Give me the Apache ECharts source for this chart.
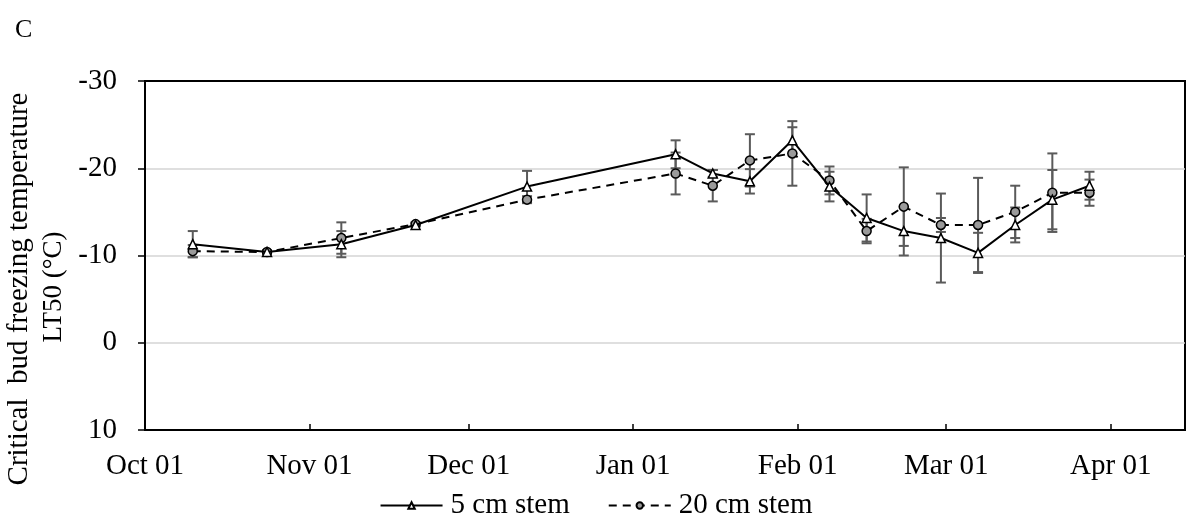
<!DOCTYPE html>
<html>
<head>
<meta charset="utf-8">
<script src="https://cdn.jsdelivr.net/npm/echarts@6/dist/echarts.min.js"></script>
<style>
  html, body { margin: 0; padding: 0; background: #fff; }
  #echart { width: 1192px; height: 529px; }
</style>
</head>
<body>
<div id="echart"></div>
<script>
// sampling dates
var dates = ['2018-10-10', '2018-10-24', '2018-11-07', '2018-11-21', '2018-12-12',
	'2019-01-09', '2019-01-16', '2019-01-23', '2019-01-31', '2019-02-07', '2019-02-14',
	'2019-02-21', '2019-02-28', '2019-03-07', '2019-03-14', '2019-03-21', '2019-03-28'];
// LT50 (°C)
var stem5 = [-11.3, -10.4, -11.3, -13.5, -17.9, -21.6, -19.4, -18.5, -23.2, -17.9, -14.3, -12.8, -12.0, -10.3, -13.5, -16.4, -18.0];
var stem20 = [-10.5, -10.4, -12.0, -13.6, -16.4, -19.4, -18.0, -20.9, -21.7, -18.6, -12.8, -15.6, -13.5, -13.5, -15.0, -17.2, -17.2];
// error bar half widths
var err5 = [1.5, 0.2, 1.5, 0.2, 1.8, 1.6, 0.4, 1.4, 1.5, 1.7, 2.7, 2.8, 5.1, 2.3, 2.0, 3.4, 1.6];
var err20 = [0.7, 0.2, 1.8, 0.2, 0.4, 2.4, 1.8, 3.0, 3.7, 1.6, 1.4, 4.5, 0.8, 5.4, 3.0, 4.5, 1.5];
var yTicks = [-30, -20, -10, 0, 10];
var monthNames = ['Jan', 'Feb', 'Mar', 'Apr', 'May', 'Jun', 'Jul', 'Aug', 'Sep', 'Oct', 'Nov', 'Dec'];
var yTitle = ['Critical  bud freezing temperature', 'LT50 (°C)'];

var font = 'Liberation Serif';
var day = 86400000;

function pairs(vals) {
	return dates.map(function(d, i) { return [d, vals[i]]; });
}
function errPairs(vals, errs) {
	return dates.map(function(d, i) { return [d, vals[i], errs[i]]; });
}
function renderErr(params, api) {
	var x = api.value(0), v = api.value(1), e = api.value(2);
	var top = api.coord([x, v - e]);
	var bot = api.coord([x, v + e]);
	var w = 5;
	var st = { stroke: '#5a5a5a', lineWidth: 2 };
	return {
		type: 'group',
		children: [
			{ type: 'line', shape: { x1: top[0], y1: top[1], x2: bot[0], y2: bot[1] }, style: st },
			{ type: 'line', shape: { x1: top[0] - w, y1: top[1], x2: top[0] + w, y2: top[1] }, style: st },
			{ type: 'line', shape: { x1: bot[0] - w, y1: bot[1], x2: bot[0] + w, y2: bot[1] }, style: st }
		]
	};
}

var myChart = echarts.init(document.getElementById('echart'));
myChart.setOption({
	animation: false,
	textStyle: { fontFamily: font, color: '#000' },
	title: {
		text: 'C',
		left: 10, top: 12,
		textStyle: { fontFamily: font, fontSize: 26, fontWeight: 'normal', color: '#000' }
	},
	// y axis title, two lines
	graphic: [{
		type: 'text',
		x: 19, y: 289,
		rotation: Math.PI / 2,
		style: { text: yTitle[0], font: '29px "Liberation Serif"', fill: '#000', align: 'center', verticalAlign: 'middle' }
	}, {
		type: 'text',
		x: 54, y: 287,
		rotation: Math.PI / 2,
		style: { text: yTitle[1], font: '27px "Liberation Serif"', fill: '#000', align: 'center', verticalAlign: 'middle' }
	}],
	legend: {
		data: ['5 cm stem', '20 cm stem'],
		bottom: 4,
		left: 'center',
		itemWidth: 62,
		itemHeight: 8,
		itemGap: 38,
		textStyle: { fontFamily: font, fontSize: 29, color: '#000', padding: [0, 0, 0, 3] }
	},
	grid: {
		left: 145, right: 7, top: 81, bottom: 99,
		outerBoundsMode: 'none',
		containLabel: false,
		show: true, borderColor: '#000', borderWidth: 2
	},
	xAxis: {
		type: 'time',
		min: '2018-10-01',
		max: '2019-04-15',
		minInterval: 28 * day,
		maxInterval: 31 * day,
		axisLine: { onZero: false, lineStyle: { color: '#000', width: 2 } },
		axisTick: { inside: true, length: 6, lineStyle: { color: '#000', width: 1.5 } },
		splitLine: { show: false },
		axisLabel: {
			fontFamily: font, fontSize: 29, color: '#000', margin: 22,
			showMaxLabel: false,
			formatter: function(val) {
				var d = new Date(val);
				var dd = d.getDate();
				return monthNames[d.getMonth()] + ' ' + (dd < 10 ? '0' + dd : dd);
			}
		}
	},
	yAxis: {
		type: 'value',
		inverse: true,
		min: yTicks[0],
		max: yTicks[yTicks.length - 1],
		interval: 10,
		axisLine: { show: true, lineStyle: { color: '#000', width: 2 } },
		axisTick: { show: true, length: 7, lineStyle: { color: '#000', width: 1.5 } },
		splitLine: { showMinLine: false, showMaxLine: false, lineStyle: { color: '#d4d4d4', width: 1.5 } },
		axisLabel: { fontFamily: font, fontSize: 29, color: '#000', margin: 28 }
	},
	series: [{
		name: 'err5',
		type: 'custom',
		renderItem: renderErr,
		encode: { x: 0, y: 1 },
		data: errPairs(stem5, err5),
		z: 1
	}, {
		name: 'err20',
		type: 'custom',
		renderItem: renderErr,
		encode: { x: 0, y: 1 },
		data: errPairs(stem20, err20),
		z: 1
	}, {
		name: '5 cm stem',
		type: 'line',
		data: pairs(stem5),
		symbol: 'triangle',
		symbolSize: 9,
		lineStyle: { color: '#000', width: 2 },
		itemStyle: { color: '#fff', borderColor: '#000', borderWidth: 1.5 },
		z: 3
	}, {
		name: '20 cm stem',
		type: 'line',
		data: pairs(stem20),
		symbol: 'circle',
		symbolSize: 9,
		lineStyle: { color: '#000', width: 2, type: [8, 6] },
		itemStyle: { color: '#9a9a9a', borderColor: '#000', borderWidth: 1.5 },
		z: 2
	}]
});
</script>
</body>
</html>
